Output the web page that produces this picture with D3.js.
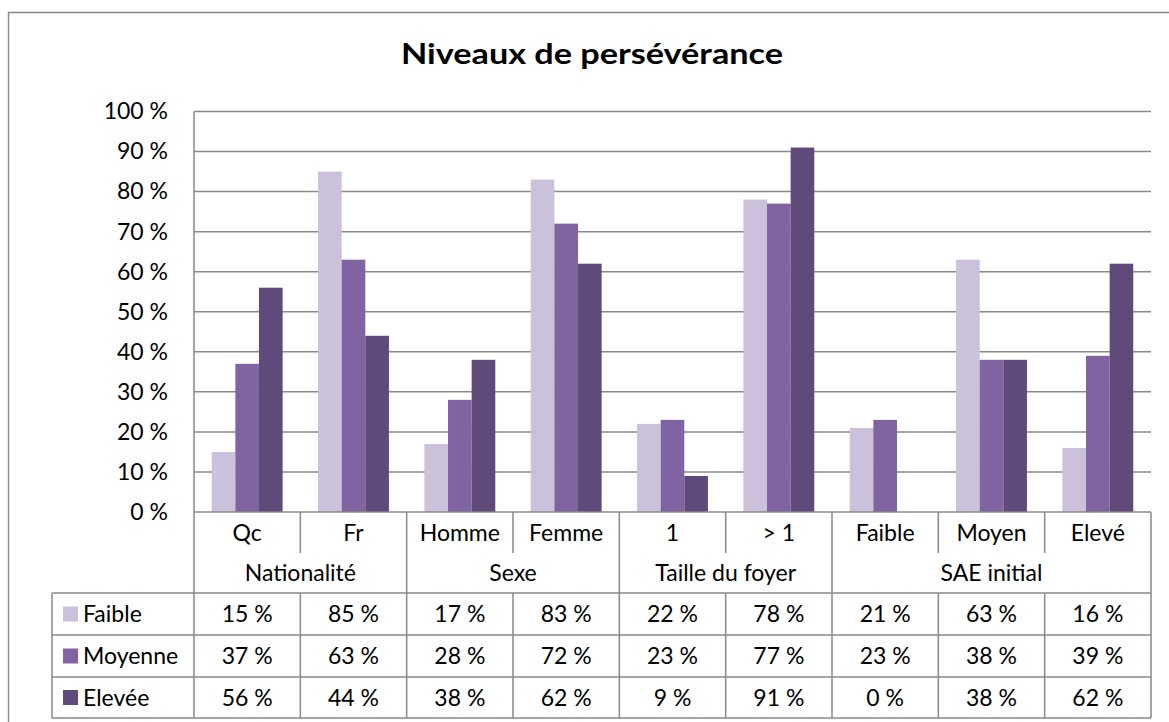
<!DOCTYPE html>
<html lang="fr">
<head>
<meta charset="utf-8">
<script src="https://cdn.jsdelivr.net/npm/d3@7"></script>
<style>
  html, body { margin: 0; padding: 0; background: #fff; }
  svg { display: block; font-family: Lato, "Open Sans", sans-serif; }
</style>
</head>
<body>
<svg id="chart" width="1169" height="722"></svg>
<script>
// Categories, grouped by the variable they belong to
const categories = ["Qc", "Fr", "Homme", "Femme", "1", "> 1", "Faible", "Moyen", "Elevé"];
const groups = ["Nationalité", "Nationalité", "Sexe", "Sexe", "Taille du foyer", "Taille du foyer",
                "SAE initial", "SAE initial", "SAE initial"];

// Perseverance levels (series) and their values in percent
const seriesNames = ["Faible", "Moyenne", "Elevée"];
const faible  = [15, 85, 17, 83, 22, 78, 21, 63, 16];
const moyenne = [37, 63, 28, 72, 23, 77, 23, 38, 39];
const elevee  = [56, 44, 38, 62, 9, 91, 0, 38, 62];
const seriesColors = ["#CCC1DA", "#8064A2", "#604A7B"];

const yTicks = [0, 10, 20, 30, 40, 50, 60, 70, 80, 90, 100];
const title = "Niveaux de persévérance";

const seriesValues = [faible, moyenne, elevee];
const series = seriesNames.map((name, i) => ({ name, values: seriesValues[i], color: seriesColors[i] }));

const svg = d3.select("#chart");
const gray = "#898989";
const fontSize = 23;

// Geometry
const plot = { left: 194, right: 1151, top: 111.5, bottom: 512 };
const rows = { cat: [512, 553], group: [553, 593], data: [593, 635, 677, 718] };
const legendLeft = 52;

// Outer chart frame (runs off the right and bottom edges)
svg.append("path")
  .attr("d", `M8.5,730 V12.5 H1180`)
  .attr("fill", "none").attr("stroke", gray).attr("stroke-width", 1.4);

// Title
svg.append("text")
  .attr("x", 592).attr("y", 64)
  .attr("text-anchor", "middle")
  .attr("font-weight", "bold")
  .attr("font-size", 29)
  .attr("transform", "translate(592,0) scale(1.18,1) translate(-592,0)")
  .text(title);

// Scales
const x = d3.scaleBand().domain(d3.range(categories.length)).range([plot.left, plot.right]);
const xs = d3.scaleBand().domain(seriesNames).range([0, x.bandwidth()]).paddingInner(0).paddingOuter(0.75);
const y = d3.scaleLinear().domain([0, 100]).range([plot.bottom, plot.top]);

// Gridlines
svg.append("g").selectAll("line").data(yTicks.filter(t => t > 0)).join("line")
  .attr("x1", plot.left).attr("x2", plot.right)
  .attr("y1", d => y(d)).attr("y2", d => y(d))
  .attr("stroke", gray).attr("stroke-width", 1.5);

// Y axis labels
const yAxis = d3.axisLeft(y).tickValues(yTicks).tickSize(0).tickPadding(26)
  .tickFormat(d => d + " %");
const yg = svg.append("g").attr("transform", `translate(${plot.left},0)`).call(yAxis);
yg.select(".domain").remove();
yg.selectAll("text").attr("font-size", fontSize).attr("fill", "#000")
  .attr("font-family", "Lato, 'Open Sans', sans-serif");

// Bars
const barG = svg.append("g");
series.forEach(s => {
  barG.append("g").selectAll("rect").data(s.values).join("rect")
    .attr("x", (d, i) => x(i) + xs(s.name))
    .attr("width", xs.bandwidth())
    .attr("y", d => y(d))
    .attr("height", d => y(0) - y(d))
    .attr("fill", s.color);
});

// Data table lines
const lines = svg.append("g").attr("stroke", gray).attr("stroke-width", 1.5).attr("fill", "none");
const hline = (yy, x1, x2) => lines.append("line").attr("x1", x1).attr("x2", x2).attr("y1", yy).attr("y2", yy);
const vline = (xx, y1, y2) => lines.append("line").attr("x1", xx).attr("x2", xx).attr("y1", y1).attr("y2", y2);

// Left value axis and category axis
vline(plot.left, plot.top, rows.data[3]);
hline(plot.bottom, plot.left, plot.right);
// table horizontals
rows.data.forEach(r => hline(r, legendLeft, plot.right));
vline(legendLeft, rows.data[0], rows.data[3]);
vline(plot.right, plot.bottom, rows.data[3]);
// column separators
for (let i = 1; i < categories.length; i++) {
  const xx = x(i);
  const groupBreak = groups[i] !== groups[i - 1];
  vline(xx, plot.bottom, groupBreak ? rows.data[3] : rows.cat[1]);
  if (!groupBreak) vline(xx, rows.data[0], rows.data[3]);
}

// Category labels
const textG = svg.append("g").attr("font-size", fontSize).attr("fill", "#000").attr("text-anchor", "middle");
textG.selectAll(".cat").data(categories).join("text")
  .attr("class", "cat")
  .attr("x", (d, i) => x(i) + x.bandwidth() / 2)
  .attr("y", (rows.cat[0] + rows.cat[1]) / 2)
  .attr("dy", "0.36em")
  .text(d => d);

// Group labels, centred over the categories they span
const groupSpans = d3.groups(categories.map((c, i) => ({ i, g: groups[i] })), d => d.g)
  .map(([g, items]) => ({ g, start: items[0].i, end: items[items.length - 1].i }));
textG.selectAll(".grp").data(groupSpans).join("text")
  .attr("class", "grp")
  .attr("x", d => (x(d.start) + x(d.end) + x.bandwidth()) / 2)
  .attr("y", (rows.group[0] + rows.group[1]) / 2)
  .attr("dy", "0.36em")
  .text(d => d.g);

// Value cells
series.forEach((s, r) => {
  const cy = (rows.data[r] + rows.data[r + 1]) / 2;
  textG.append("g").selectAll("text").data(s.values).join("text")
    .attr("x", (d, i) => x(i) + x.bandwidth() / 2)
    .attr("y", cy)
    .attr("dy", "0.36em")
    .text(d => d + " %");

  // Legend key with swatch
  svg.append("rect")
    .attr("x", 63).attr("y", cy - 7.5)
    .attr("width", 15).attr("height", 15)
    .attr("fill", s.color);
  svg.append("text")
    .attr("x", 83).attr("y", cy).attr("dy", "0.36em")
    .attr("font-size", fontSize).attr("fill", "#000")
    .text(s.name);
});
</script>
</body>
</html>
